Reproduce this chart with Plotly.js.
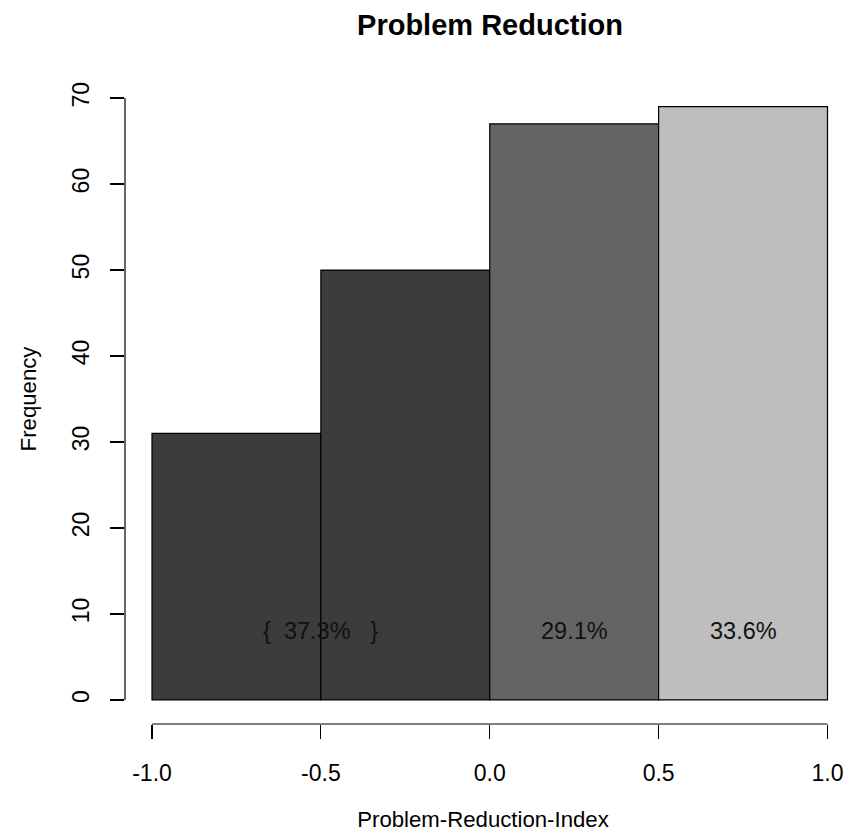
<!DOCTYPE html>
<html>
<head>
<meta charset="utf-8">
<script src="https://cdn.plot.ly/plotly-3.0.1.min.js"></script>
<style>html,body{margin:0;padding:0;background:#fff;}#chart{width:848px;height:840px;}</style>
</head>
<body>
<div id="chart"></div>
<script>
// Data
const binCenters = [-0.75, -0.25, 0.25, 0.75];
const binWidths = [0.5, 0.5, 0.5, 0.5];
const frequencies = [31, 50, 67, 69];
const barColors = ["#3c3c3c", "#3c3c3c", "#646464", "#bebebe"];
const labelX = [-0.5, 0.25, 0.75];
const labelY = [8, 8, 8];
const labelTexts = ["{\u00a0 37.3%\u00a0\u00a0 }", "29.1%", "33.6%"];
const xTicks = [-1.0, -0.5, 0.0, 0.5, 1.0];
const xTickText = ["-1.0", "-0.5", "0.0", "0.5", "1.0"];
const yTicks = [0, 10, 20, 30, 40, 50, 60, 70];

const FONT = "Liberation Sans, Arial, Helvetica, sans-serif";

const trace = {
  type: "bar",
  x: binCenters,
  y: frequencies,
  width: binWidths,
  marker: { color: barColors, line: { color: "#000", width: 1.2 } },
  hoverinfo: "skip"
};

const annotations = labelTexts.map((t, i) => ({
  x: labelX[i], y: labelY[i], xref: "x", yref: "y",
  text: t, showarrow: false,
  font: { family: FONT, size: 23.5, color: "#111" },
  xanchor: "center", yanchor: "middle"
}));

const layout = {
  width: 848, height: 840,
  margin: { l: 125, r: 7, t: 74, b: 116 },
  paper_bgcolor: "#fff", plot_bgcolor: "#fff",
  showlegend: false,
  bargap: 0,
  title: {
    text: "<b>Problem Reduction</b>",
    font: { family: FONT, size: 29, color: "#000" },
    x: 490 / 848, xref: "container", xanchor: "center",
    y: 1 - 25 / 840, yref: "container", yanchor: "middle"
  },
  xaxis: {
    range: [-1.0799, 1.04],
    tickvals: xTicks, ticktext: xTickText,
    ticks: "outside", ticklen: 14, tickwidth: 1.2, tickcolor: "#000",
    ticklabelstandoff: 14,
    showgrid: false, zeroline: false, showline: false,
    tickfont: { family: FONT, size: 23, color: "#000" },
    title: { text: "Problem-Reduction-Index", font: { family: FONT, size: 22.2, color: "#000" }, standoff: 26 },
    fixedrange: true
  },
  yaxis: {
    range: [-2.8, 72.8],
    tickvals: yTicks,
    ticks: "outside", ticklen: 14, tickwidth: 1.2, tickcolor: "#000",
    ticklabelstandoff: 12,
    tickangle: -90,
    showgrid: false, zeroline: false, showline: false,
    tickfont: { family: FONT, size: 23, color: "#000" },
    title: { text: "Frequency", font: { family: FONT, size: 22.2, color: "#000" }, standoff: 25 },
    fixedrange: true
  },
  shapes: [
    { type: "line", xref: "paper", yref: "y", x0: 0, x1: 0, y0: yTicks[0], y1: yTicks[yTicks.length - 1], line: { color: "#000", width: 1.2 } },
    { type: "line", xref: "x", yref: "paper", x0: xTicks[0], x1: xTicks[xTicks.length - 1], y0: 0, y1: 0, line: { color: "#000", width: 1.2 } }
  ],
  annotations: annotations
};

Plotly.newPlot("chart", [trace], layout, { displayModeBar: false, staticPlot: true });
</script>
</body>
</html>
